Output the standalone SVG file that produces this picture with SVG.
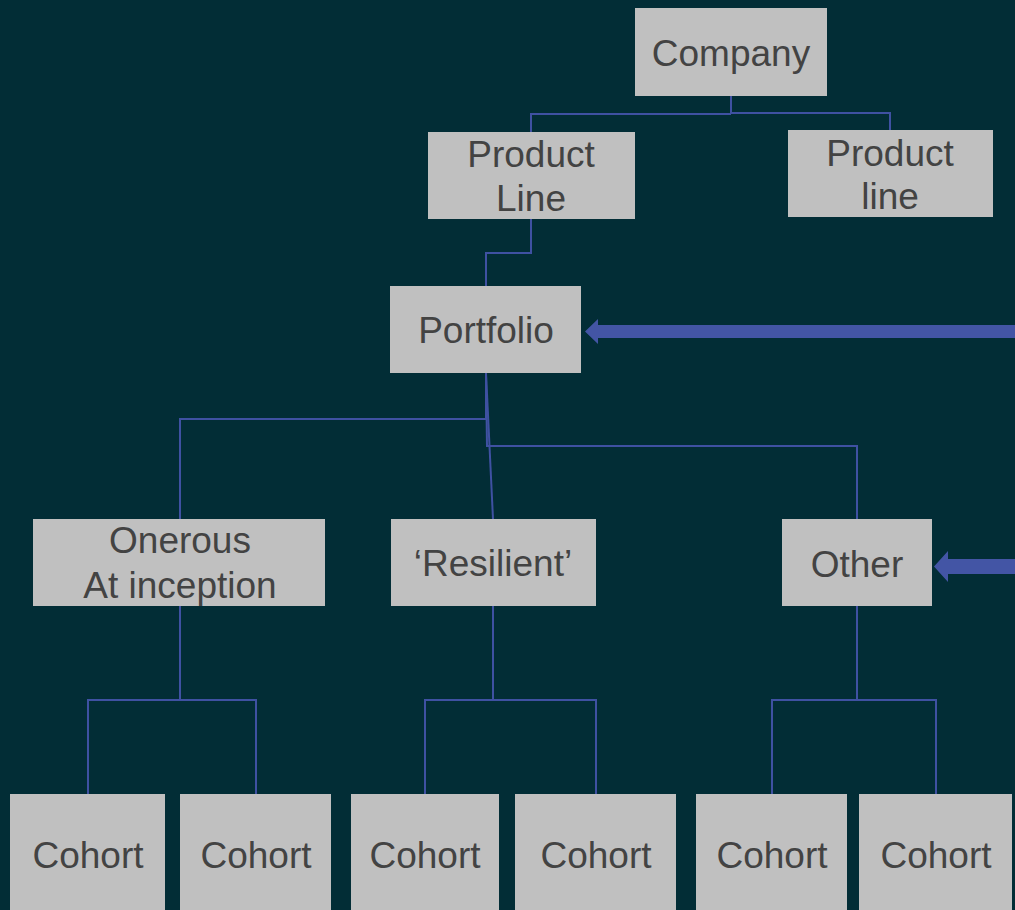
<svg xmlns="http://www.w3.org/2000/svg" width="1015" height="910" viewBox="0 0 1015 910">
<style>
.box{fill:#c0c0c0}
.t{font-family:"Liberation Sans",Arial,sans-serif;font-size:37px;fill:#434343;text-anchor:middle}
.c{fill:none;stroke:#3f51a2;stroke-width:2}
.arr{fill:#4355a5}
</style>
<rect width="1015" height="910" fill="#022d36"/>
<g id="connectors">
<polyline class="c" points="731,96 731,114"/>
<polyline class="c" points="531,132 531,114 731,114"/>
<polyline class="c" points="731,113 890,113 890,130"/>
<polyline class="c" points="531,219 531,253 486,253 486,286"/>
<polyline class="c" points="486,373 486,419 180,419 180,519"/>
<polyline class="c" points="486,373 487,446 857,446 857,519"/>
<polyline class="c" points="486,373 493,519"/>
<polyline class="c" points="180,606 180,700"/>
<polyline class="c" points="88,794 88,700 256,700 256,794"/>
<polyline class="c" points="493,606 493,700"/>
<polyline class="c" points="425,794 425,700 596,700 596,794"/>
<polyline class="c" points="857,606 857,700"/>
<polyline class="c" points="772,794 772,700 936,700 936,794"/>
<polygon class="arr" points="1015,325 598,325 598,319 585,331.5 598,344 598,338 1015,338"/>
<polygon class="arr" points="1015,559 948,559 948,551 934,566.5 948,582 948,574 1015,574"/>
</g>
<g id="company"><rect class="box" x="635" y="8" width="192" height="88"/><text class="t" x="731" y="66">Company</text></g>
<g id="productLine1"><rect class="box" x="428" y="132" width="207" height="87"/><text class="t" x="531" y="167">Product</text><text class="t" x="531" y="211">Line</text></g>
<g id="productLine2"><rect class="box" x="788" y="130" width="205" height="87"/><text class="t" x="890" y="166">Product</text><text class="t" x="890" y="209">line</text></g>
<g id="portfolio"><rect class="box" x="390" y="286" width="191" height="87"/><text class="t" x="486" y="343">Portfolio</text></g>
<g id="onerous"><rect class="box" x="33" y="519" width="292" height="87"/><text class="t" x="180" y="553">Onerous</text><text class="t" x="180" y="598">At inception</text></g>
<g id="resilient"><rect class="box" x="391" y="519" width="205" height="87"/><text class="t" x="493" y="576">‘Resilient’</text></g>
<g id="other"><rect class="box" x="782" y="519" width="150" height="87"/><text class="t" x="857" y="577">Other</text></g>
<g id="cohort1"><rect class="box" x="10" y="794" width="155" height="116"/><text class="t" x="88" y="868">Cohort</text></g>
<g id="cohort2"><rect class="box" x="180" y="794" width="151" height="116"/><text class="t" x="256" y="868">Cohort</text></g>
<g id="cohort3"><rect class="box" x="351" y="794" width="148" height="116"/><text class="t" x="425" y="868">Cohort</text></g>
<g id="cohort4"><rect class="box" x="515" y="794" width="161" height="116"/><text class="t" x="596" y="868">Cohort</text></g>
<g id="cohort5"><rect class="box" x="696" y="794" width="151" height="116"/><text class="t" x="772" y="868">Cohort</text></g>
<g id="cohort6"><rect class="box" x="859" y="794" width="153" height="116"/><text class="t" x="936" y="868">Cohort</text></g>
</svg>
